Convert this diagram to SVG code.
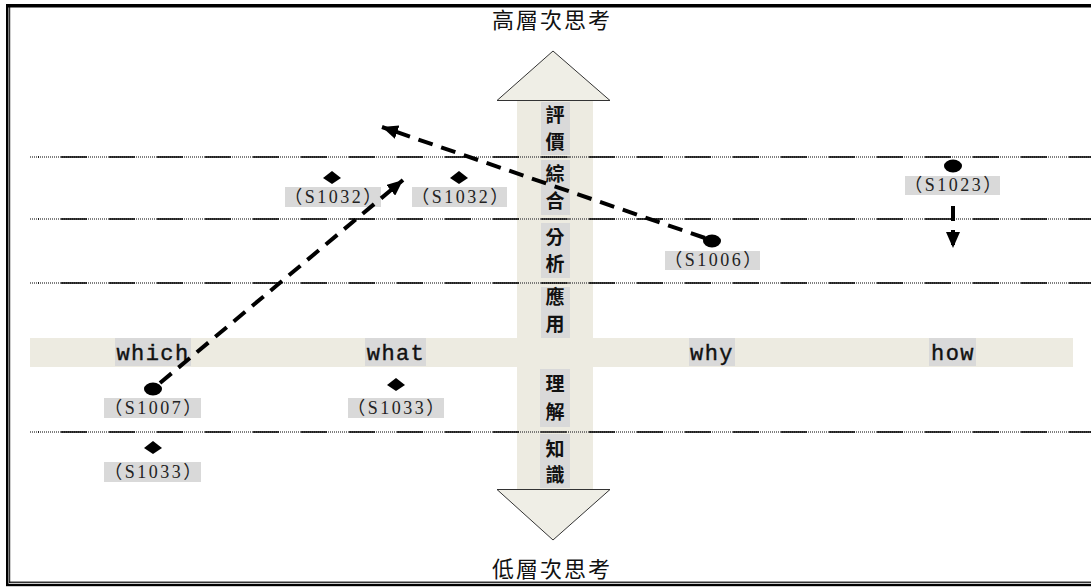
<svg xmlns="http://www.w3.org/2000/svg" width="1091" height="588" viewBox="0 0 1091 588">
  <style>
    .band { fill: #EDEBE1; }
    .tag { fill: #D9D9D9; }
    .grid-solid { stroke: #000; stroke-width: 1.3; stroke-dasharray: 26 22; fill: none; }
    .grid-dot { stroke: #555; stroke-width: 1.3; stroke-dasharray: 1 1; fill: none; }
    .cjk { font-family: "Noto Sans CJK TC", "Noto Sans CJK SC", sans-serif; font-weight: 600; fill: #111; }
    .axis { font-family: "Liberation Mono", "DejaVu Sans Mono", monospace; font-size: 22px; letter-spacing: 1.4px; fill: #111; stroke: #111; stroke-width: 0.4; text-anchor: middle; }
    .code { font-family: "Liberation Serif", "Noto Sans CJK TC", serif; font-size: 18px; letter-spacing: 2.5px; fill: #222; text-anchor: middle; }
    .level { font-family: "Noto Sans CJK TC", sans-serif; font-size: 22px; letter-spacing: 2px; fill: #111; text-anchor: middle; }
    .arrow { stroke: #000; stroke-width: 4; stroke-dasharray: 15 9; fill: none; }
    .head { fill: #000; }
    .bigtri { fill: #EFEEE6; stroke: #333; stroke-width: 1; }
  </style>
  <defs>
    <marker id="ah" markerUnits="userSpaceOnUse" markerWidth="18" markerHeight="14" refX="16" refY="7" orient="auto">
      <path d="M0,0 L16,7 L0,14 Z" class="head"/>
    </marker>
  </defs>

  <rect width="1091" height="588" fill="#fff"/>

  <!-- double frame -->
  <g id="frame">
    <rect x="6" y="4" width="1085" height="3.5" fill="#000"/>
    <rect x="6" y="4" width="2.5" height="582" fill="#000"/>
    <rect x="9.2" y="7" width="1" height="576" fill="#000"/>
    <rect x="6" y="583.8" width="1085" height="2.4" fill="#000"/>
    <rect x="9.2" y="581.6" width="1082" height="1.2" fill="#000"/>
  </g>

  <!-- question-type band and thinking-level band -->
  <g id="bands">
    <rect class="band" x="30" y="338" width="1043" height="29"/>
    <rect class="band" x="517" y="100" width="76" height="390"/>
    <polygon class="bigtri" points="553,51 497,100.5 610,100.5"/>
    <polygon class="bigtri" points="497,489.5 610,489.5 553,540"/>
  </g>

  <!-- level separators -->
  <g id="grid">
    <line class="grid-dot" x1="30" y1="157" x2="1091" y2="157"/>
    <line class="grid-solid" x1="38" y1="157" x2="1091" y2="157" stroke-dashoffset="-23"/>
    <line class="grid-dot" x1="30" y1="219" x2="1091" y2="219"/>
    <line class="grid-solid" x1="38" y1="219" x2="1091" y2="219" stroke-dashoffset="-23"/>
    <line class="grid-dot" x1="30" y1="283" x2="1091" y2="283"/>
    <line class="grid-solid" x1="38" y1="283" x2="1091" y2="283" stroke-dashoffset="-23"/>
    <line class="grid-dot" x1="30" y1="432" x2="1091" y2="432"/>
    <line class="grid-solid" x1="38" y1="432" x2="1091" y2="432" stroke-dashoffset="-23"/>
  </g>

  <!-- vertical level labels -->
  <g id="levels">
    <rect class="tag" x="541" y="102" width="29" height="53"/>
    <rect class="tag" x="541" y="160" width="29" height="55"/>
    <rect class="tag" x="541" y="223" width="29" height="55"/>
    <rect class="tag" x="541" y="287" width="29" height="51"/>
    <rect class="tag" x="540" y="369" width="30" height="58"/>
    <rect class="tag" x="540" y="434" width="30" height="54"/>
    <line class="grid-dot" x1="541" y1="157" x2="570" y2="157"/>
    <line class="grid-dot" x1="541" y1="219" x2="570" y2="219"/>
    <line class="grid-dot" x1="541" y1="283" x2="570" y2="283"/>
    <line class="grid-dot" x1="540" y1="432" x2="570" y2="432"/>
    <g class="cjk" font-size="19" text-anchor="middle">
      <text x="555" y="122">評</text>
      <text x="555" y="149">價</text>
      <text x="555" y="181">綜</text>
      <text x="555" y="208">合</text>
      <text x="555" y="244">分</text>
      <text x="555" y="271">析</text>
      <text x="555" y="304">應</text>
      <text x="555" y="331">用</text>
      <text x="555" y="391">理</text>
      <text x="555" y="419">解</text>
      <text x="555" y="456">知</text>
      <text x="555" y="482">識</text>
    </g>
  </g>

  <g id="top-label"><text class="level" x="552" y="28">高層次思考</text></g>
  <g id="bottom-label"><text class="level" x="552" y="577">低層次思考</text></g>

  <!-- question types -->
  <g id="q-which"><rect class="tag" x="115" y="338" width="76" height="28"/><text class="axis" x="153" y="360">which</text></g>
  <g id="q-what"><rect class="tag" x="365" y="338" width="61" height="28"/><text class="axis" x="396" y="360">what</text></g>
  <g id="q-why"><rect class="tag" x="689" y="338" width="46" height="28"/><text class="axis" x="712" y="360">why</text></g>
  <g id="q-how"><rect class="tag" x="929" y="338" width="47" height="28"/><text class="axis" x="953" y="360">how</text></g>

  <!-- student markers -->
  <g id="s1032-a">
    <polygon class="head" points="332,171 341,178 332,184 323,178"/>
    <rect class="tag" x="285" y="187" width="96" height="20"/>
    <text class="code" x="334" y="203">（S1032）</text>
  </g>
  <g id="s1032-b">
    <polygon class="head" points="459,171 468,178 459,184 450,178"/>
    <rect class="tag" x="412" y="187" width="95" height="20"/>
    <text class="code" x="461" y="203">（S1032）</text>
  </g>
  <g id="s1023">
    <ellipse class="head" cx="953" cy="166" rx="9" ry="6.5"/>
    <rect class="tag" x="905" y="176" width="95" height="19"/>
    <text class="code" x="954" y="191">（S1023）</text>
  </g>
  <g id="s1006">
    <ellipse class="head" cx="712" cy="241" rx="9" ry="6.5"/>
    <rect class="tag" x="665" y="251" width="95" height="19"/>
    <text class="code" x="714" y="266">（S1006）</text>
  </g>
  <g id="s1007">
    <ellipse class="head" cx="153" cy="389" rx="9" ry="6.5"/>
    <rect class="tag" x="104" y="398" width="97" height="20"/>
    <text class="code" x="154" y="414">（S1007）</text>
  </g>
  <g id="s1033-a">
    <polygon class="head" points="396,378 405,385 396,391 387,385"/>
    <rect class="tag" x="348" y="398" width="96" height="20"/>
    <text class="code" x="397" y="414">（S1033）</text>
  </g>
  <g id="s1033-b">
    <polygon class="head" points="153,441 162,448 153,454 144,448"/>
    <rect class="tag" x="104" y="462" width="97" height="20"/>
    <text class="code" x="154" y="478">（S1033）</text>
  </g>

  <!-- movement connectors -->
  <g id="connectors">
    <line class="arrow" x1="160" y1="383" x2="403" y2="180" marker-end="url(#ah)"/>
    <line class="arrow" x1="705" y1="238" x2="382" y2="127" marker-end="url(#ah)"/>
    <line class="arrow" x1="953" y1="206" x2="953" y2="248" stroke-dasharray="14 8" marker-end="url(#ah)"/>
  </g>
</svg>
